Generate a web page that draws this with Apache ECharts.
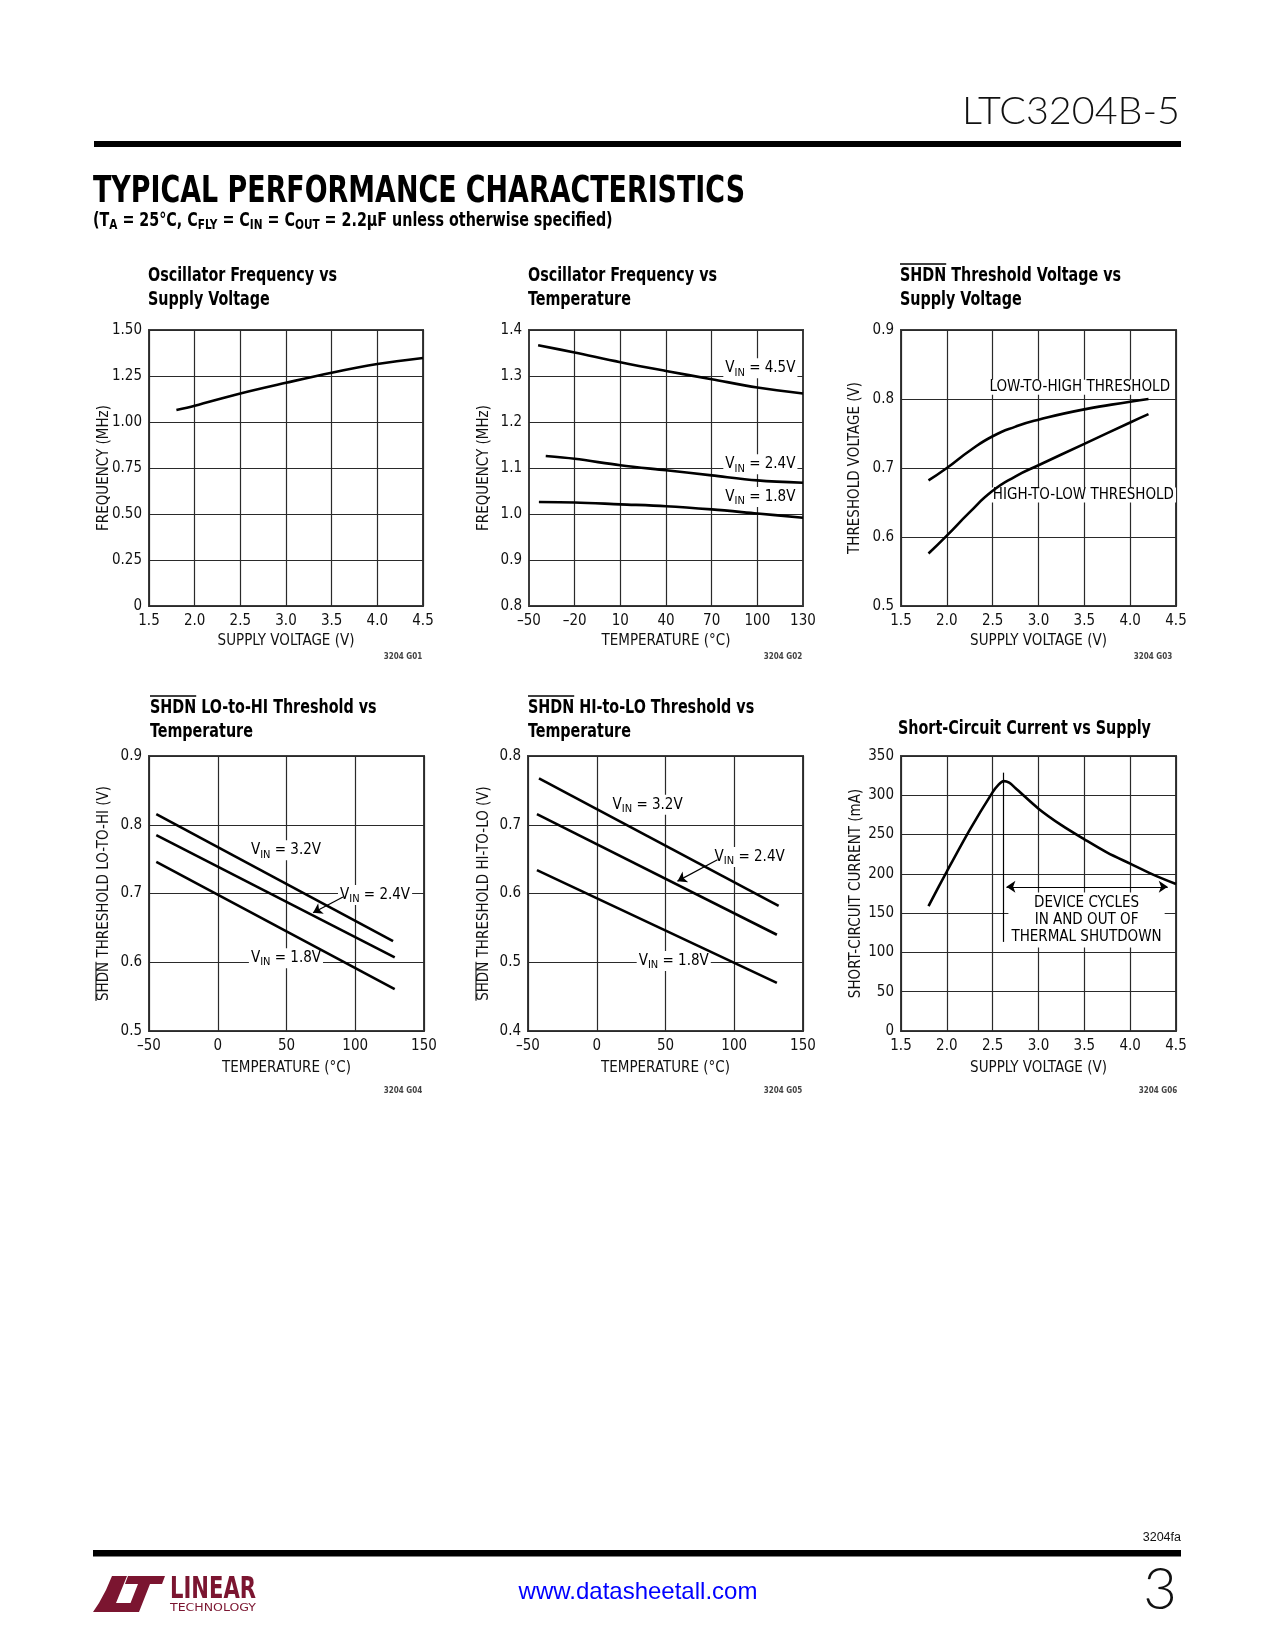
<!DOCTYPE html>
<html><head><meta charset="utf-8">
<script src="https://cdn.jsdelivr.net/npm/echarts@6/dist/echarts.min.js"></script>
<style>html,body{margin:0;padding:0;background:#fff}#c{width:1275px;height:1650px}</style>
</head><body><div id="c"></div>
<script>
// ---------------- DATA ----------------
// 1. Oscillator frequency vs supply voltage
const oscVolt = [1.8, 2.0, 2.5, 3.0, 3.5, 4.0, 4.5];
const oscFreqVsVolt = [1.065, 1.088, 1.155, 1.213, 1.268, 1.315, 1.348];
// 2. Oscillator frequency vs temperature
const temp45 = [-44, -20, 10, 40, 70, 100, 130];
const freq45 = [1.367, 1.351, 1.330, 1.311, 1.293, 1.275, 1.262];
const temp24 = [-39, -20, 10, 40, 70, 100, 130];
const freq24 = [1.126, 1.120, 1.106, 1.095, 1.084, 1.073, 1.068];
const temp18 = [-43.5, -20, 10, 40, 70, 100, 130];
const freq18 = [1.026, 1.025, 1.021, 1.017, 1.010, 1.001, 0.992];
// 3. SHDN threshold vs supply voltage
const thrVolt = [1.8, 2.0, 2.25, 2.5, 2.75, 3.0, 3.5, 4.0, 4.2];
const thrLowToHigh = [0.682, 0.700, 0.725, 0.746, 0.760, 0.770, 0.785, 0.796, 0.800];
const thrHighToLow = [0.576, 0.602, 0.636, 0.667, 0.688, 0.704, 0.735, 0.766, 0.778];
// 4. SHDN LO-to-HI threshold vs temperature
const lohiTemp32 = [-44.7, 127.5];
const lohi32 = [0.8155, 0.6306];
const lohiTemp24 = [-44.7, 128.7];
const lohi24 = [0.785, 0.607];
const lohiTemp18 = [-44.7, 128.7];
const lohi18 = [0.746, 0.561];
// 5. SHDN HI-to-LO threshold vs temperature
const hiloTemp32 = [-42, 132.3];
const hilo32 = [0.7675, 0.582];
const hiloTemp24 = [-43.5, 131];
const hilo24 = [0.7155, 0.540];
const hiloTemp18 = [-43.5, 131];
const hilo18 = [0.634, 0.470];
// 6. Short-circuit current vs supply
const scVolt = [1.8, 2.0, 2.25, 2.5, 2.56, 2.62, 2.68, 2.75, 3.0, 3.25, 3.5, 3.75, 4.0, 4.25, 4.5];
const scCurrent = [159, 203, 256, 304, 313, 318, 316, 309, 283, 262, 244, 227, 213, 199, 187];
// tick label texts are produced by formatters from axis values
// ----------------------------------------------------------------

const NARROW = "'Liberation Sans Narrow','DejaVu Sans Condensed','Arial Narrow',sans-serif";
const mctx = document.createElement('canvas').getContext('2d');
function tw(text, font){ mctx.font = font; return mctx.measureText(text).width; }
const pair = (xs, ys) => xs.map((x, i) => [x, ys[i]]);
const dash = v => v < 0 ? '\u2013' + Math.abs(v) : String(v);

const chart = echarts.init(document.getElementById('c'), null, {renderer:'canvas', width:1275, height:1650});

const gridBoxes = [
  {left:149, top:330, width:274, height:276},
  {left:529, top:330, width:274, height:276},
  {left:901, top:330, width:275, height:276},
  {left:149, top:756, width:275, height:275},
  {left:528, top:756, width:275, height:275},
  {left:901, top:756, width:275, height:275}
];
const grid = gridBoxes.map(g => Object.assign({show:true, borderColor:'#3c3c3c', borderWidth:2}, g));

const gridLine = {show:true, lineStyle:{color:'#2a2a2a', width:1.2}};
const lblStyle = {fontFamily:NARROW, fontSize:15, color:'#111'};

function xAx(i, min, max, interval, fmt, name, nameGap, split){
  return {type:'value', gridIndex:i, min, max, interval,
    axisLine:{show:false}, axisTick:{show:false},
    splitLine: split === false ? {show:false} : gridLine,
    axisLabel:Object.assign({margin:8, formatter:fmt}, lblStyle),
    name, nameLocation:'middle', nameGap, nameTextStyle:lblStyle};
}
function yAx(i, min, max, interval, fmt){
  return {type:'value', gridIndex:i, min, max, interval,
    axisLine:{show:false}, axisTick:{show:false}, splitLine:gridLine,
    axisLabel:Object.assign({margin:7, formatter:fmt}, lblStyle)};
}
const f1 = v => v.toFixed(1);
const xAxis = [
  xAx(0, 1.5, 4.5, 0.5, f1, 'SUPPLY VOLTAGE (V)', 28),
  xAx(1, -50, 130, 10, v => (Math.round(v + 50) % 30 === 0 ? dash(Math.round(v)) : ''), 'TEMPERATURE (\u00B0C)', 28, false),
  xAx(2, 1.5, 4.5, 0.5, f1, 'SUPPLY VOLTAGE (V)', 28),
  xAx(3, -50, 150, 50, dash, 'TEMPERATURE (\u00B0C)', 30),
  xAx(4, -50, 150, 50, dash, 'TEMPERATURE (\u00B0C)', 30),
  xAx(5, 1.5, 4.5, 0.5, f1, 'SUPPLY VOLTAGE (V)', 30)
];
const yAxis = [
  yAx(0, 0, 1.5, 0.25, v => v === 0 ? '0' : v.toFixed(2)),
  yAx(1, 0.8, 1.4, 0.1, f1),
  yAx(2, 0.5, 0.9, 0.1, f1),
  yAx(3, 0.5, 0.9, 0.1, f1),
  yAx(4, 0.4, 0.8, 0.1, f1),
  yAx(5, 0, 350, 50, v => String(Math.round(v)))
];

const rich = {
  a:{fontFamily:NARROW, fontSize:15, color:'#000', lineHeight:18},
  b:{fontFamily:NARROW, fontSize:11, color:'#000', padding:[9,0,0,0]}
};
const vin = v => '{a|V}{b|IN}{a| = ' + v + 'V}';
function marks(items){
  return {z:2, silent:true, symbol:'rect', symbolSize:1, itemStyle:{color:'rgba(0,0,0,0)'},
    label:{show:true, position:'inside', color:'#000', fontFamily:NARROW, fontSize:15,
      backgroundColor:'#fff', padding:[0,2], rich},
    data: items.map(it => ({coord:it.c, label:Object.assign({formatter:it.t}, it.l || {})}))};
}
function arrows(lines, sym){
  return {z:6, silent:true, symbol:sym || ['none','arrow'], symbolSize:9,
    lineStyle:{color:'#000', width:1.2, type:'solid'}, label:{show:false},
    data: lines};
}
function line(i, data, smooth, extra){
  return Object.assign({type:'line', xAxisIndex:i, yAxisIndex:i, data, smooth: smooth || false,
    showSymbol:false, symbol:'none', silent:true, z:3,
    lineStyle:{color:'#000', width:2.6}}, extra || {});
}

const series = [
  line(0, pair(oscVolt, oscFreqVsVolt), 0.35),
  line(1, pair(temp45, freq45), 0.35, {markPoint:marks([
    {c:[102, 1.317], t:vin('4.5')},
    {c:[102, 1.108], t:vin('2.4')},
    {c:[102, 1.037], t:vin('1.8')}
  ])}),
  line(1, pair(temp24, freq24), 0.35),
  line(1, pair(temp18, freq18), 0.35, {markLine:{z:1, silent:true, symbol:'none', label:{show:false},
    lineStyle:{color:'#2a2a2a', width:1.2, type:'solid'},
    data:[-20, 10, 40, 70, 100].map(v => ({xAxis:v}))}}),
  line(2, pair(thrVolt, thrLowToHigh), 0.55, {markPoint:marks([
    {c:[3.45, 0.817], t:'LOW-TO-HIGH THRESHOLD'},
    {c:[3.49, 0.661], t:'HIGH-TO-LOW THRESHOLD'}
  ])}),
  line(2, pair(thrVolt, thrHighToLow), 0.55),
  line(3, pair(lohiTemp32, lohi32), false, {markPoint:marks([
    {c:[49.6, 0.763], t:vin('3.2')},
    {c:[114.4, 0.698], t:vin('2.4')},
    {c:[49.6, 0.606], t:vin('1.8')}
  ])}),
  line(3, pair(lohiTemp24, lohi24), false, {markLine:arrows([[{coord:[91.1, 0.695]}, {coord:[69.3, 0.672]}]])}),
  line(3, pair(lohiTemp18, lohi18), false),
  line(4, pair(hiloTemp32, hilo32), false, {markPoint:marks([
    {c:[37, 0.729], t:vin('3.2')},
    {c:[111.2, 0.653], t:vin('2.4')},
    {c:[56, 0.502], t:vin('1.8')}
  ])}),
  line(4, pair(hiloTemp24, hilo24), false, {markLine:arrows([[{coord:[87.8, 0.649]}, {coord:[58.7, 0.618]}]])}),
  line(4, pair(hiloTemp18, hilo18), false),
  line(5, pair(scVolt, scCurrent), 0.3, {
    markPoint:marks([{c:[3.524, 141.3], t:'DEVICE CYCLES\nIN AND OUT OF\nTHERMAL SHUTDOWN',
      l:{lineHeight:17, align:'center', padding:[2,3]}}]),
    markLine:arrows([
      [{coord:[2.62, 113.4], symbol:'none'}, {coord:[2.62, 328.8], symbol:'none'}],
      [{coord:[2.65, 183.5], symbol:'arrow'}, {coord:[4.41, 183.5], symbol:'arrow'}]
    ], ['none','none'])
  })
];

// ---------------- page text / decorations ----------------
const graphic = [];
function text(x, y, t, font, o){
  graphic.push(Object.assign({type:'text', x, y, silent:true,
    style:{text:t, font, fill:(o && o.fill) || '#111', align:(o && o.align) || 'left', verticalAlign:(o && o.va) || 'middle'}},
    o && o.scaleX ? {scaleX:o.scaleX} : {}, o && o.rotation ? {rotation:o.rotation} : {}));
}
function fit(t, font, w){ return w / tw(t, font); }
function hline(x1, y1, x2, y2, w, c){
  graphic.push({type:'line', silent:true, shape:{x1, y1, x2, y2}, style:{stroke:c || '#111', lineWidth:w}});
}

// header
const HF = "300 38px Lato, 'DejaVu Sans', sans-serif";
text(1180, 112, 'LTC3204B-5', HF, {align:'right', scaleX:fit('LTC3204B-5', HF, 218), fill:'#111'});
graphic.push({type:'rect', silent:true, shape:{x:94, y:141, width:1087, height:6}, style:{fill:'#000'}});
const TF = "900 37px 'DejaVu Sans Condensed','DejaVu Sans',sans-serif";
text(93, 192, 'TYPICAL PERFORMANCE CHARACTERISTICS', TF, {scaleX:fit('TYPICAL PERFORMANCE CHARACTERISTICS', TF, 652), fill:'#000'});
// subtitle with subscripts
const subText = '{n|(T}{s|A}{n| = 25\u00B0C, C}{s|FLY}{n| = C}{s|IN}{n| = C}{s|OUT}{n| = 2.2\u03BCF unless otherwise specified)}';
const SF = "bold 19px " + NARROW;
const subPlain = '(TA = 25\u00B0C, CFLY = CIN = COUT = 2.2\u03BCF unless otherwise specified)';
graphic.push({type:'text', x:93, y:221, silent:true, scaleX: 524 / (tw(subPlain, SF) - 0.2 * tw('AFLYINOUT', SF)),
  style:{text:subText, fill:'#000', align:'left', verticalAlign:'middle',
    rich:{n:{fontFamily:NARROW, fontWeight:'bold', fontSize:19, lineHeight:24},
          s:{fontFamily:NARROW, fontWeight:'bold', fontSize:14, padding:[9,0,0,0]}}}});

// chart titles
const CTF = "bold 20px " + NARROW;
const ts = fit('Oscillator Frequency vs', CTF, 189);
const titles = [
  {x:148, y:275, lines:['Oscillator Frequency vs', 'Supply Voltage']},
  {x:528, y:275, lines:['Oscillator Frequency vs', 'Temperature']},
  {x:900, y:275, lines:['SHDN Threshold Voltage vs', 'Supply Voltage'], over:true},
  {x:150, y:707, lines:['SHDN LO-to-HI Threshold vs', 'Temperature'], over:true},
  {x:528, y:707, lines:['SHDN HI-to-LO Threshold vs', 'Temperature'], over:true},
  {x:898, y:728, lines:['Short-Circuit Current vs Supply']}
];
titles.forEach(t => {
  t.lines.forEach((l, k) => text(t.x, t.y + k * 23.5 + 1, l, CTF, {scaleX:ts, fill:'#000'}));
  if (t.over) hline(t.x, t.y - 11, t.x + tw('SHDN', CTF) * ts, t.y - 11, 1.5, '#000');
});

// y-axis names (rotated)
const YF = "15px " + NARROW;
const ynames = [
  {cx:104, cy:468, t:'FREQUENCY (MHz)'},
  {cx:484, cy:468, t:'FREQUENCY (MHz)'},
  {cx:855, cy:468, t:'THRESHOLD VOLTAGE (V)'},
  {cx:104, cy:893.5, t:'SHDN THRESHOLD LO-TO-HI (V)', over:true},
  {cx:484, cy:893.5, t:'SHDN THRESHOLD HI-TO-LO (V)', over:true},
  {cx:856, cy:893.5, t:'SHORT-CIRCUIT CURRENT (mA)'}
];
ynames.forEach(n => {
  text(n.cx, n.cy, n.t, YF, {align:'center', rotation:Math.PI / 2});
  if (n.over) {
    const W = tw(n.t, YF), w = tw('SHDN', YF);
    hline(n.cx - 8, n.cy + W / 2, n.cx - 8, n.cy + W / 2 - w, 1.1);
  }
});

// figure codes
const GF = "bold 8px " + NARROW;
[[403, 657, '3204 G01'], [783, 657, '3204 G02'], [1153, 657, '3204 G03'],
 [403, 1091, '3204 G04'], [783, 1091, '3204 G05'], [1158, 1091, '3204 G06']].forEach(g =>
  text(g[0], g[1], g[2], GF, {align:'center', fill:'#444'}));

// footer
text(1181, 1538, '3204fa', "12.5px 'Liberation Sans', Arial, sans-serif", {align:'right', fill:'#111'});
graphic.push({type:'rect', silent:true, shape:{x:93, y:1550, width:1088, height:6.5}, style:{fill:'#000'}});
text(638, 1592, 'www.datasheetall.com', "24px 'Liberation Sans', Arial, sans-serif", {align:'center', fill:'#0000ff'});
text(1177, 1590, '3', "300 58px Lato, 'DejaVu Sans', sans-serif", {align:'right', fill:'#111'});
const LOGO = '#7b1530';
const dy = 6;
graphic.push({type:'polygon', silent:true, shape:{points:[[112,1570],[127,1570],[116,1597],[140,1597],[137,1606],[93,1606],[99,1597],[106,1584]].map(p => [p[0], p[1] + dy])}, style:{fill:LOGO}});
graphic.push({type:'polygon', silent:true, shape:{points:[[128,1570],[165,1570],[162,1578],[150,1578],[139,1606],[127,1606],[138,1578],[125,1578]].map(p => [p[0], p[1] + dy])}, style:{fill:LOGO}});
const LF = "bold 30px " + NARROW;
text(170, 1584 + dy, 'LINEAR', LF, {scaleX:fit('LINEAR', LF, 86), fill:LOGO});
const LF2 = "10px " + NARROW;
text(170, 1602 + dy, 'TECHNOLOGY', LF2, {scaleX:fit('TECHNOLOGY', LF2, 86), fill:LOGO});

chart.setOption({
  animation:false,
  backgroundColor:'#fff',
  grid, xAxis, yAxis, series, graphic
});
</script></body></html>
